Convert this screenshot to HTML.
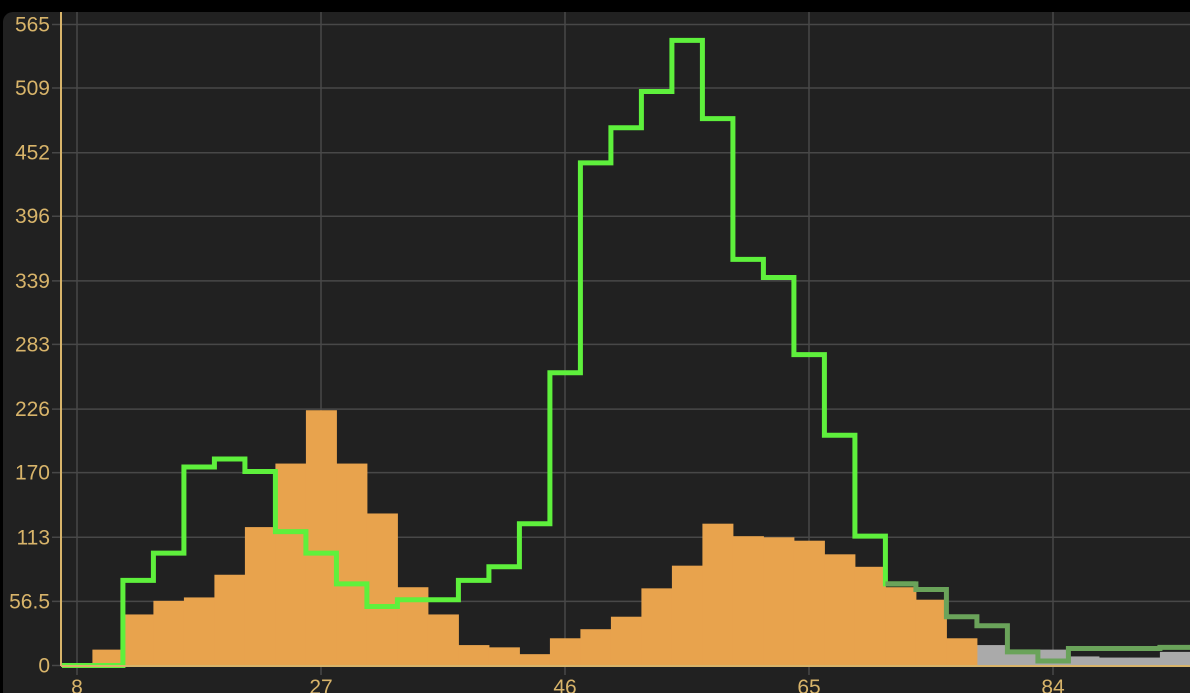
<!DOCTYPE html>
<html><head><meta charset="utf-8"><style>
html,body{margin:0;padding:0;background:#000;}
svg{display:block;font-family:"Liberation Sans",sans-serif;}
</style></head><body>
<svg id="chart" width="1190" height="693">
<rect x="3" y="12" width="1200" height="700" rx="10" fill="#212121"/>
<g id="grid"></g><g id="bars"></g><g id="lines"></g><g id="axes"></g>
</svg>
<script>
const xTicks=[8,27,46,65,84];
const yTicks=[0,56.5,113,170,226,283,339,396,452,509,565];
const binStart=9.2, binWidth=2.375;
const orangeValues=[14,45,57,60,80,122,178,225,178,134,69,45,18,16,10,24,32,43,68,88,125,114,113,110,98,87,69,58,24];
const greyValues=[0,0,0,0,0,0,0,0,0,0,0,0,0,0,0,0,0,0,0,0,0,0,0,0,0,0,0,0,0,18,14,14,8,7,7,12];
const greenValues=[0,75,99,175,182,171,118,99,72,52,58,58,75,87,125,258,443,474,506,551,482,358,342,274,203,114,72,67,43,35,12,4,15,15,15,16];
const fadeFrom=26;
const X=v=>77+(v-8)*(244/19);
const Y=v=>665.5-v*1.1345;
const NS="http://www.w3.org/2000/svg";
function mk(tag,attrs,parent){const e=document.createElementNS(NS,tag);for(const k in attrs)e.setAttribute(k,attrs[k]);parent.appendChild(e);return e;}
const g=document.getElementById('grid'),b=document.getElementById('bars'),l=document.getElementById('lines'),a=document.getElementById('axes');
yTicks.forEach(t=>{const ln=mk('line',{x1:52,x2:1190,y1:Y(t),y2:Y(t),stroke:'#484848','stroke-width':1.5},g);

const tx=mk('text',{x:50,y:Y(t)+7,'text-anchor':'end','font-size':21,fill:'#d8b46a'},a);tx.textContent=t;
});
xTicks.concat([103]).forEach(t=>{const ln=mk('line',{x1:X(t),x2:X(t),y1:12,y2:675,stroke:'#484848','stroke-width':1.5},g);
});
xTicks.forEach(t=>{const tx=mk('text',{x:X(t),y:694,'text-anchor':'middle','font-size':21,fill:'#d8b46a'},a);tx.textContent=t;
});
function bars(vals,color,name){vals.forEach((v,i)=>{if(v<=0)return;const x0=X(binStart+i*binWidth),x1=X(binStart+(i+1)*binWidth);
const r=mk('rect',{x:x0,y:Y(v),width:x1-x0+0.5,height:Y(0)-Y(v),fill:color},b);
});}
bars(greyValues,'#aaaaaa','grey-bar');
bars(orangeValues,'#e8a34d','orange-bar');
function stepPath(from,to,startX){let d='';let px=startX;for(let i=from;i<to;i++){const x0=X(binStart+i*binWidth),x1=X(binStart+(i+1)*binWidth),y=Y(greenValues[i]);
d+=(d?'L':'M')+(d?x0:px)+','+y+'L'+x1+','+y;}return d;}
const startPath='M62,'+Y(0)+'L'+X(binStart)+','+Y(0)+'L'+X(binStart)+','+Y(greenValues[0]);
const p1=mk('path',{d:startPath+stepPath(0,fadeFrom+1,X(binStart)).replace(/^M/,'L'),fill:'none',stroke:'#5ef03c','stroke-width':5,'stroke-linejoin':'miter'},l);

const p2=mk('path',{d:stepPath(fadeFrom,greenValues.length,X(binStart+fadeFrom*binWidth))+'L1190,'+Y(18),fill:'none',stroke:'#6aa35a','stroke-width':5},l);

const ax=mk('line',{x1:61,x2:61,y1:12,y2:666,stroke:'#d8b46a','stroke-width':2},a);

const bx=mk('line',{x1:61,x2:1190,y1:666,y2:666,stroke:'#d8b46a','stroke-width':2},a);

</script>
</body></html>
